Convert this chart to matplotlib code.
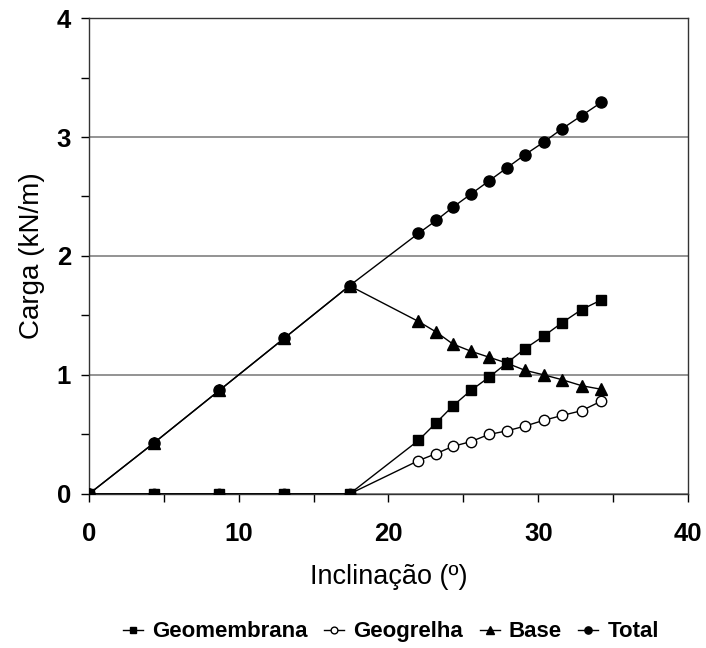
import matplotlib.pyplot as plt
from matplotlib.ticker import MultipleLocator

plt.rcParams['font.family'] = ['Liberation Sans', 'DejaVu Sans']

# inclinação (º)
x = [0, 4.35, 8.7, 13.05, 17.4, 22.0, 23.2, 24.3, 25.5, 26.7, 27.9,
     29.1, 30.4, 31.6, 32.9, 34.2]

geomembrana = [0, 0, 0, 0, 0, 0.45, 0.60, 0.74, 0.87, 0.98, 1.10,
               1.22, 1.33, 1.44, 1.55, 1.63]
geogrelha = [0, 0, 0, 0, 0, 0.28, 0.34, 0.40, 0.44, 0.50, 0.53,
             0.57, 0.62, 0.66, 0.70, 0.78]
base = [0, 0.43, 0.87, 1.31, 1.75, 1.45, 1.36, 1.26, 1.20, 1.15, 1.10,
        1.04, 1.00, 0.96, 0.91, 0.88]
total = [0, 0.43, 0.87, 1.31, 1.75, 2.19, 2.30, 2.41, 2.52, 2.63, 2.74,
         2.85, 2.96, 3.07, 3.18, 3.29]

fig = plt.figure(figsize=(7.06, 6.48), dpi=100)
ax = fig.add_axes([0.126, 0.2377, 0.8485, 0.7345])

ax.plot(x, base, marker='^', color='k', lw=1, ms=8, label='Base', zorder=3)
ax.plot(x, geogrelha, marker='o', color='k', mfc='white', lw=1, ms=7.5,
        label='Geogrelha', zorder=4)
ax.plot(x, geomembrana, marker='s', color='k', lw=1, ms=7.5,
        label='Geomembrana', zorder=5)
ax.plot(x, total, marker='o', color='k', lw=1, ms=8, label='Total', zorder=6)

ax.set_xlim(0, 40)
ax.set_ylim(0, 4)
ax.xaxis.set_major_locator(MultipleLocator(10))
ax.xaxis.set_minor_locator(MultipleLocator(5))
ax.yaxis.set_major_locator(MultipleLocator(1))
ax.yaxis.set_minor_locator(MultipleLocator(0.5))
ax.tick_params(which='both', direction='out', length=6, width=1)
ax.tick_params(axis='x', labelsize=18.5, pad=14)
ax.tick_params(axis='y', labelsize=18.5, pad=7)
for lbl in ax.get_xticklabels() + ax.get_yticklabels():
    lbl.set_fontweight('bold')

ax.grid(True, axis='y', which='major', color='#808080', lw=1.2)
for s in ax.spines.values():
    s.set_color('#333333')
    s.set_linewidth(1)

ax.set_xlabel('Inclinação (º)', fontsize=19.5, labelpad=13)
ax.set_ylabel('Carga (kN/m)', fontsize=20, labelpad=8)

h, l = ax.get_legend_handles_labels()
order = [2, 1, 0, 3]
fig.legend([h[i] for i in order], [l[i] for i in order],
           loc='center', bbox_to_anchor=(0.554, 0.025), ncol=4, frameon=False,
           prop={'weight': 'bold', 'size': 16}, handlelength=0.9,
           handletextpad=0.4, columnspacing=0.75, markerscale=0.65)

fig.savefig('out.png', dpi=100)
